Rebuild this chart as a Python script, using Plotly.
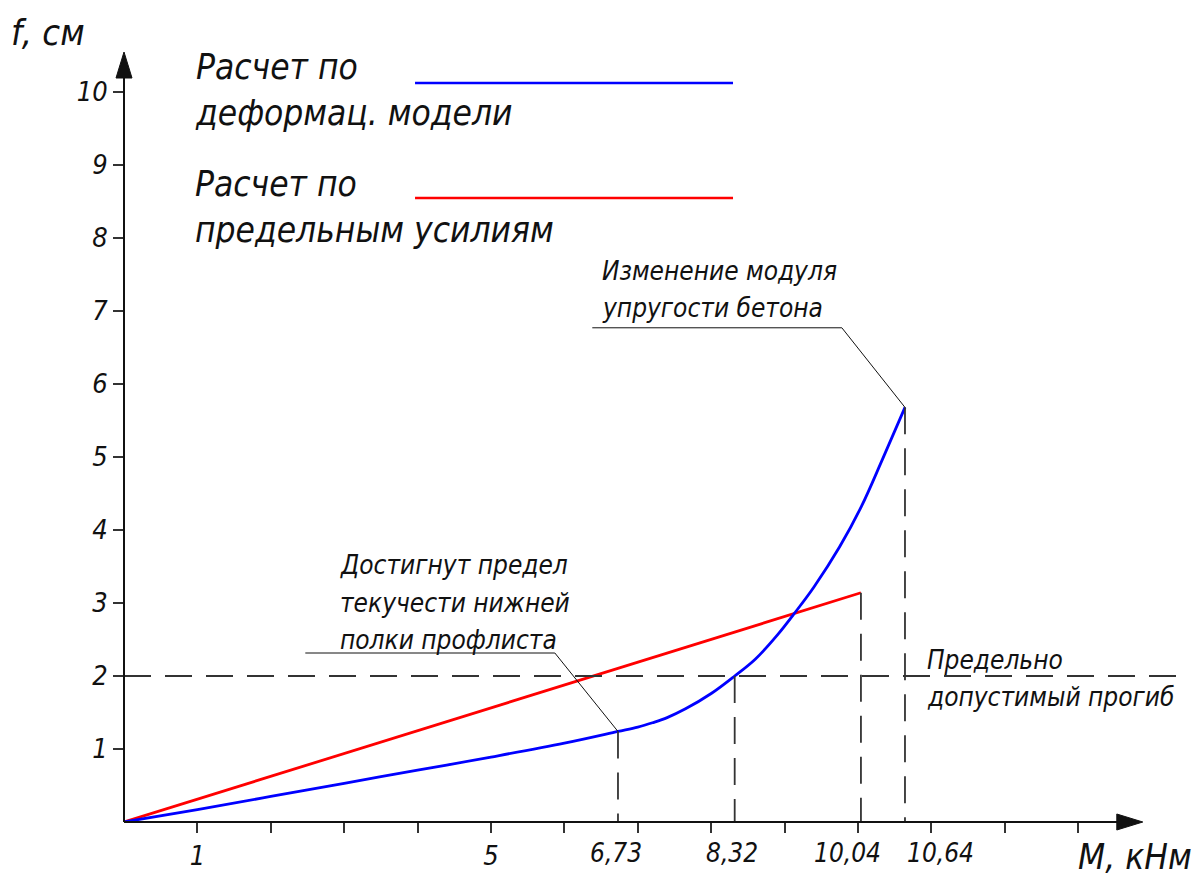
import plotly.graph_objects as go

# Bending moment M (kN*m) vs. mid-span deflection f (cm)
# Deformation-model calculation
M_DEFORM = [0, 1, 2, 3, 4, 5, 6, 6.73, 7.0, 7.2, 7.4, 7.65, 8.0, 8.32, 8.6,
            8.9, 9.15, 9.4, 9.75, 10.05, 10.33, 10.64]
F_DEFORM = [0, 0.17, 0.35, 0.53, 0.71, 0.89, 1.08, 1.24, 1.30, 1.36, 1.43,
            1.55, 1.76, 2.00, 2.23, 2.56, 2.88, 3.22, 3.77, 4.33, 4.96, 5.68]

# Ultimate-force calculation
M_LIMIT = [0, 10.04]
F_LIMIT = [0, 3.14]

# Allowable deflection
F_ALLOWED = 2.0

# Characteristic points: yield of bottom flange, allowable deflection reached,
# end of ultimate-force line, change of concrete modulus
MARK_M = [M_DEFORM[7], M_DEFORM[13], M_LIMIT[1], M_DEFORM[-1]]
MARK_F = [F_DEFORM[7], F_DEFORM[13], F_LIMIT[1], F_DEFORM[-1]]
MARK_TEXT = ["6,73", "8,32", "10,04", "10,64"]

X_TICKS = list(range(1, 14))
X_TICK_TEXT = ["1", "", "", "", "5", "", "", "", "", "", "", "", ""]
Y_TICKS = list(range(1, 11))
Y_TICK_TEXT = [str(v) for v in Y_TICKS]

# ---- page geometry ----
W, H = 1202, 879
ML, MR, MT, MB = 124, 17, 52, 57
PW, PH = W - ML - MR, H - MT - MB
X_MAX = PW / 73.4
Y_MAX = PH / 73.0
PX = 1.0 / PW          # one pixel in paper units, horizontally
PY = 1.0 / PH          # one pixel in paper units, vertically
UY = 1.0 / 73.0        # one pixel in f units

FONT = "DejaVu Sans Condensed, Liberation Sans Narrow, DejaVu Sans, sans-serif"
INK = "#111111"
DASH_COLOR = "#333333"
DASH = "27px,14px"


def xp(m):
    return m / X_MAX


fig = go.Figure()

fig.add_trace(go.Scatter(
    x=M_LIMIT, y=F_LIMIT, mode="lines",
    line=dict(color="#ff0000", width=2.8),
    hoverinfo="skip", showlegend=False,
))
fig.add_trace(go.Scatter(
    x=M_DEFORM, y=F_DEFORM, mode="lines",
    line=dict(color="#0000ff", width=2.8, shape="spline", smoothing=1.0),
    hoverinfo="skip", showlegend=False,
))

shapes = []

# allowable deflection line
shapes.append(dict(type="line", xref="x", yref="y",
                   x0=0, y0=F_ALLOWED, x1=14.39, y1=F_ALLOWED,
                   line=dict(color=DASH_COLOR, width=1.8, dash=DASH)))

# drop lines from the characteristic points to the M axis
for m, f in zip(MARK_M, MARK_F):
    shapes.append(dict(type="line", xref="x", yref="y",
                       x0=m, y0=f, x1=m, y1=0,
                       line=dict(color=DASH_COLOR, width=1.8, dash=DASH)))

# leader lines of the callouts
shapes.append(dict(type="path", xref="x", yref="y",
                   path=f"M 2.47,2.315 L 5.87,2.315 L {MARK_M[0]},{MARK_F[0]}",
                   line=dict(color=INK, width=1)))
shapes.append(dict(type="path", xref="x", yref="y",
                   path=f"M 6.38,6.77 L 9.78,6.77 L {MARK_M[3]},{MARK_F[3]}",
                   line=dict(color=INK, width=1)))

# coordinate axes with arrowheads
x_tip = xp(13.88)
y_tip = 1.0
head_len, head_half = 26, 8
shapes.append(dict(type="line", xref="paper", yref="paper",
                   x0=0, y0=0, x1=x_tip - 10 * PX, y1=0,
                   line=dict(color=INK, width=2)))
shapes.append(dict(type="line", xref="paper", yref="paper",
                   x0=0, y0=0, x1=0, y1=y_tip - 10 * PY,
                   line=dict(color=INK, width=2)))
shapes.append(dict(type="path", xref="paper", yref="paper",
                   path=(f"M {x_tip},0 L {x_tip - head_len * PX},{head_half * PY} "
                         f"L {x_tip - head_len * PX},{-head_half * PY} Z"),
                   fillcolor=INK, line=dict(color=INK, width=1)))
shapes.append(dict(type="path", xref="paper", yref="paper",
                   path=(f"M 0,{y_tip} L {head_half * PX},{y_tip - head_len * PY} "
                         f"L {-head_half * PX},{y_tip - head_len * PY} Z"),
                   fillcolor=INK, line=dict(color=INK, width=1)))

# legend samples
shapes.append(dict(type="line", xref="paper", yref="paper",
                   x0=0.2743, x1=0.574, y0=0.9597, y1=0.9597,
                   line=dict(color="#0000ff", width=2.5)))
shapes.append(dict(type="line", xref="paper", yref="paper",
                   x0=0.2743, x1=0.574, y0=0.8104, y1=0.8104,
                   line=dict(color="#ff0000", width=2.5)))

annotations = []


def text(s, x, y, size, xref="paper", yref="paper", xanchor="left",
         yanchor="top", **kw):
    annotations.append(dict(
        text=s, x=x, y=y, xref=xref, yref=yref, xanchor=xanchor,
        yanchor=yanchor, align="left", showarrow=False,
        font=dict(family=FONT, size=size, color=INK, style="italic"), **kw))


def block(lines, x, top, size, step_px):
    """Left-aligned multi-line caption placed in data units."""
    for i, s in enumerate(lines):
        text(s, x, top - i * step_px * UY, size, xref="x", yref="y")


# axis titles
text("f, см", -0.108, 1.055, 36)
text("М, кНм", 0.897, -0.017, 35)

# legend captions
text("Расчет по<br>деформац. модели", 0.065, 1.009, 35)
text("Расчет по<br>предельным усилиям", 0.065, 0.857, 35)

# callouts
block(["Изменение модуля", "упругости бетона"], 6.49, 7.78, 26, 37)
block(["Достигнут предел", "текучести нижней", "полки профлиста"],
      2.92, 3.75, 26, 37.5)
block(["Предельно", "допустимый прогиб"], 10.91, 2.45, 26, 37)

# values of the characteristic moments under the M axis
label_anchor = ["center", "center", "center", "left"]
label_shift = [-2, -3, -13, 0]
for m, s, a, dx in zip(MARK_M, MARK_TEXT, label_anchor, label_shift):
    text(s, m, 0, 26, xref="x", yref="y", xanchor=a, yshift=-14, xshift=dx)

fig.update_layout(
    width=W, height=H,
    margin=dict(l=ML, r=MR, t=MT, b=MB, autoexpand=False),
    paper_bgcolor="white", plot_bgcolor="white",
    font=dict(family=FONT, color=INK, style="italic"),
    shapes=shapes, annotations=annotations,
    xaxis=dict(range=[0, X_MAX], showgrid=False, zeroline=False,
               showline=False, ticks="outside", ticklen=10, tickwidth=1.5,
               tickcolor="#333333", tickvals=X_TICKS, ticktext=X_TICK_TEXT,
               tickfont=dict(family=FONT, size=27, color=INK, style="italic"),
               ticklabelstandoff=0, automargin=False, fixedrange=True),
    yaxis=dict(range=[0, Y_MAX], showgrid=False, zeroline=False,
               showline=False, ticks="outside", ticklen=10, tickwidth=1.5,
               tickcolor="#333333", tickvals=Y_TICKS, ticktext=Y_TICK_TEXT,
               tickfont=dict(family=FONT, size=27, color=INK, style="italic"),
               ticklabelstandoff=0, automargin=False, fixedrange=True),
)

fig.write_html("out.html")
